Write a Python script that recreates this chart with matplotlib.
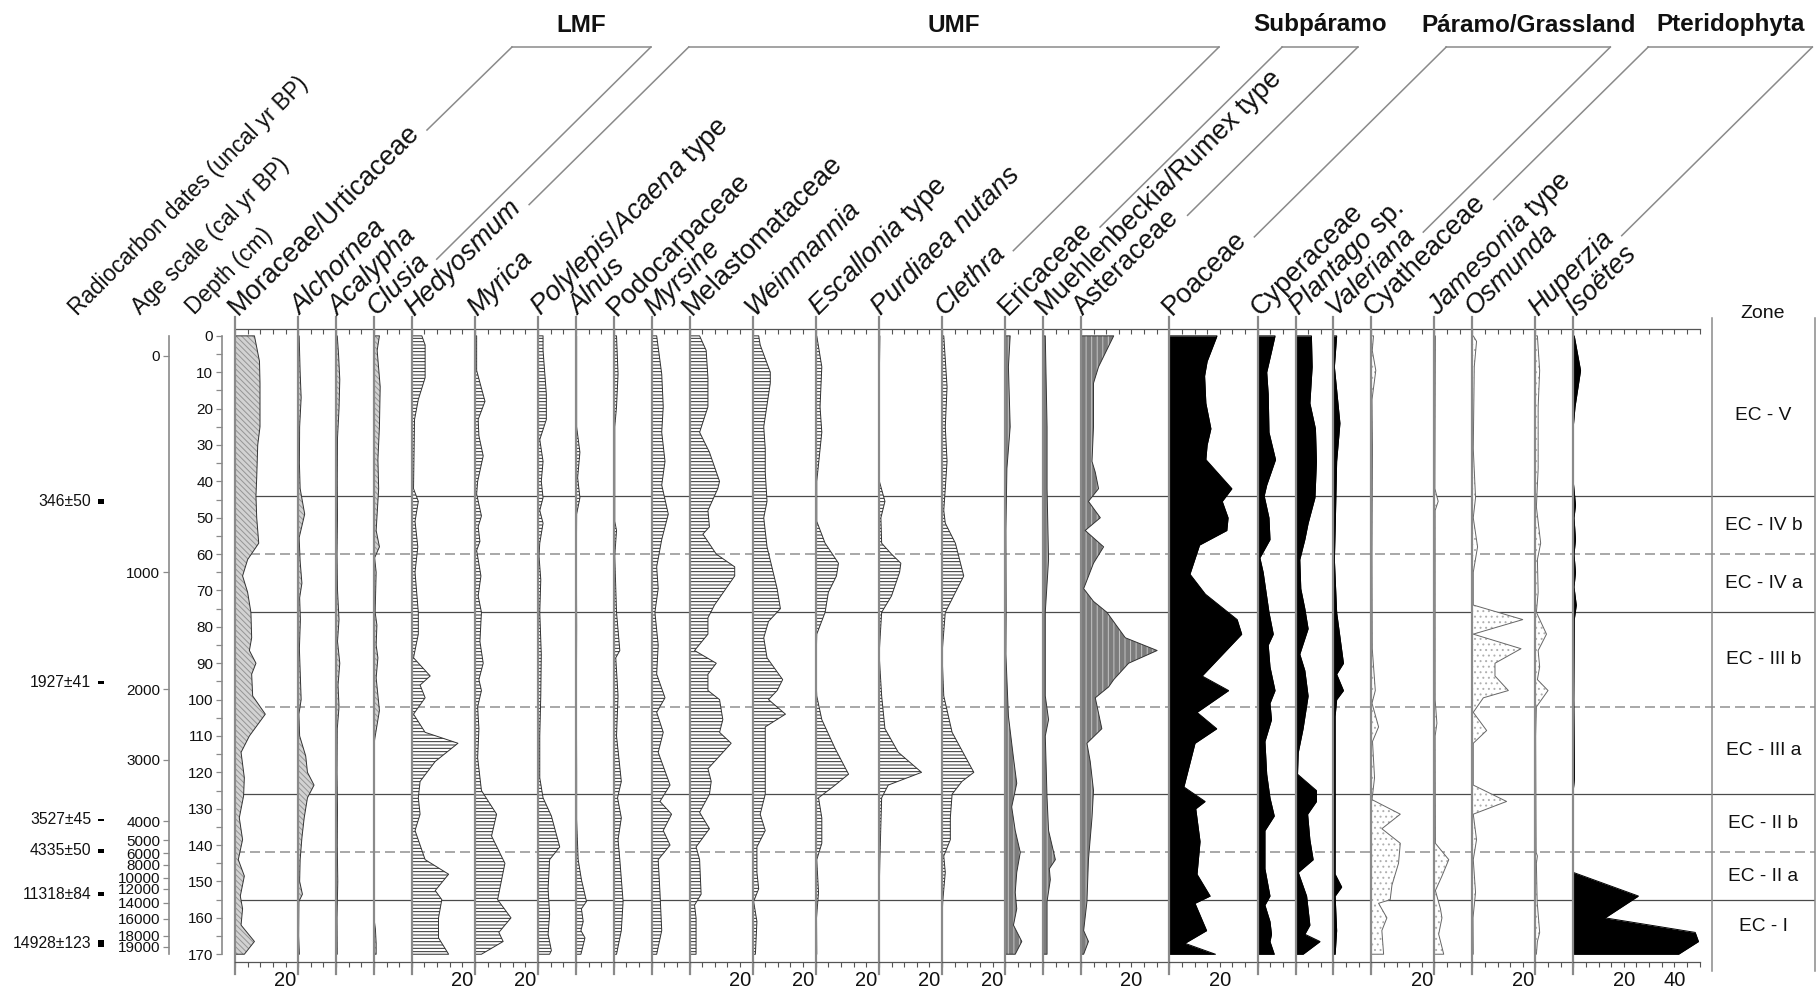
import numpy as np
import matplotlib.pyplot as plt
from matplotlib.patches import Rectangle

plt.rcParams['font.family'] = ['Liberation Sans', 'DejaVu Sans']
plt.rcParams['mathtext.fontset'] = 'custom'
plt.rcParams['mathtext.rm'] = 'Liberation Sans'
plt.rcParams['mathtext.it'] = 'Liberation Sans:italic'
plt.rcParams['hatch.linewidth'] = 0.7

# ---------------- data (depth cm, percentage) ----------------
zone_solid = [44, 76, 126, 155]
zone_dashed = [60, 102, 142]
zone_bounds = [0, 44, 60, 76, 102, 126, 142, 155, 170]
zone_names = ["EC - V", "EC - IV b", "EC - IV a", "EC - III b", "EC - III a",
              "EC - II b", "EC - II a", "EC - I"]

age_labels = [0, 1000, 2000, 3000, 4000, 5000, 6000, 8000, 10000, 12000,
              14000, 16000, 18000, 19000]
age_depths = [5.5, 65.0, 97.1, 116.5, 133.4, 138.7, 142.2, 145.4, 149.0,
              152.0, 155.8, 160.2, 164.9, 168.0]

c14_labels = ["346\u00b150", "1927\u00b141", "3527\u00b145", "4335\u00b150",
              "11318\u00b184", "14928\u00b1123"]
c14_depths = [45.5, 95.3, 133.0, 141.6, 153.5, 167.1]
c14_err = [0.6, 0.3, 0.3, 0.6, 0.6, 0.9]

moraceae = [(0, 7.7), (7, 9.7), (13, 9.9), (25, 9.9), (30, 9.0), (39, 8.6), (44, 8.3),
            (50, 8.6), (57, 9.4), (61.5, 5.0), (66, 3.0), (70.5, 5.0), (76, 6.3),
            (83, 6.6), (86.5, 5.7), (90, 8.3), (93, 6.6), (99, 7.0), (104, 12.0),
            (110, 5.7), (114.5, 2.4), (121.5, 3.7), (126.5, 3.4), (132.5, 1.7),
            (138.5, 3.0), (144, 1.3), (148.5, 3.7), (154, 2.1), (157.5, 3.0),
            (162, 2.4), (166.5, 7.7), (170, 3.7)]
alchornea = [(0, 0.4), (10, 0.8), (17, 1.2), (25, 0.6), (35, 0.5), (42, 0.8), (49, 2.6),
             (55.5, 0.4), (62, 0.8), (68, 1.5), (72, 0.6), (78, 0.9), (86, 0.5),
             (92, 0.8), (100, 1.2), (104, 0.3), (110, 0.6), (115.5, 3.0), (120, 3.7),
             (123.5, 6.3), (127, 3.7), (132.5, 2.4), (138, 1.5), (144, 0.8), (150, 0.6),
             (153.5, 1.7), (155.5, 0.3), (165, 0.2), (170, 0.5)]
acalypha = [(0, 0.5), (5, 1.0), (12, 1.5), (20, 1.2), (28, 0.6), (40, 0.5), (50, 0.6),
            (60, 0.4), (70, 0.6), (78, 1.2), (84, 0.6), (90, 1.5), (96, 0.8),
            (102, 1.2), (108, 0.5), (120, 0.4), (130, 0.6), (140, 0.5), (150, 0.7),
            (160, 0.4), (170, 0.5)]
clusia = [(0, 2.2), (4, 1.3), (14, 2.5), (25, 2.2), (34, 1.6), (42, 1.9), (53.5, 0.9),
          (58, 2.2), (61, 0.3), (65, 0.9), (76, 0.5), (79.5, 1.2), (85, 0.9),
          (88.5, 1.6), (94, 0.9), (103, 2.2), (111, 0.3), (113, 0), (160, 0),
          (163, 0.6), (167, 0.9), (170, 0.9)]
hedyosmum = [(0, 4.0), (2.5, 5.3), (11.5, 5.3), (17.5, 2.6), (23, 1.1), (42, 0.7),
             (45.5, 2.6), (51, 1.3), (58, 2.4), (65, 1.3), (76, 2.6), (82, 2.6),
             (88.5, 0.7), (93.5, 7.3), (96, 3.3), (99.5, 5.3), (104, 0.7), (109, 5.3),
             (112, 18.3), (117, 9.3), (122.5, 3.3), (127, 2.6), (131.5, 3.3),
             (136, 1.3), (144, 5.3), (148, 14.6), (152.5, 9.3), (155, 11.9),
             (160, 10.6), (165.5, 10.6), (170, 14.6)]
myrica = [(0, 0.7), (9.5, 0.7), (18, 4.0), (23, 1.3), (27.5, 1.6), (33, 3.3), (40, 1.1),
          (43.5, 0.7), (49.5, 2.6), (52.5, 1.3), (56.5, 2.0), (59, 0.7), (66, 2.4),
          (71.5, 1.3), (76, 2.6), (84, 2.0), (90, 3.3), (94.5, 1.6), (97.5, 2.6),
          (102, 1.1), (108, 1.6), (116, 1.1), (125, 2.6), (131.5, 8.6), (137.5, 6.6),
          (145, 11.9), (155, 9.0), (160, 14.3), (164, 9.5), (166.5, 11.2), (170, 2.6)]
polylepis = [(0, 2.0), (4, 2.0), (16, 3.3), (23, 3.3), (28.5, 0.7), (34.5, 2.0), (40, 1.3),
             (44.5, 2.0), (48, 0.7), (51.5, 2.0), (57, 0.7), (60.5, 0.4), (67, 1.1),
             (76, 0.7), (87.5, 1.3), (99, 1.1), (110, 0.7), (121.5, 0.7), (127, 2.0),
             (132, 5.3), (140.5, 8.6), (144, 4.6), (152, 4.0), (159, 4.6), (164.5, 4.0),
             (169, 5.3), (170, 4.6)]
alnus = [(0, 0.3), (25, 0.3), (32, 1.6), (39, 0.7), (44.5, 1.6), (49, 0.3), (60, 0.2),
         (80, 0.3), (100, 0.2), (120, 0.3), (133, 0.3), (144, 0.9), (149.5, 2.2),
         (155.5, 4.2), (157.5, 2.2), (161, 2.9), (163.5, 2.0), (165.5, 3.6), (170, 2.0)]
podocarpaceae = [(0, 1.1), (10.5, 1.7), (19.5, 1.1), (25, 0.4), (51, 0.4), (53.5, 1.1),
                 (60.5, 0.4), (76, 1.1), (86.5, 2.4), (88.5, 0.8), (99, 1.7), (110, 1.1),
                 (122.5, 3.0), (127, 1.5), (132.5, 3.0), (138.5, 1.7), (144, 2.4),
                 (155.5, 3.7), (163.5, 3.0), (170, 1.1)]
myrsine = [(0, 2.0), (10.5, 4.0), (19.5, 4.6), (26.5, 4.0), (34.5, 5.3), (41, 4.0),
           (49, 6.6), (56, 4.0), (63.5, 2.0), (69.5, 2.6), (76, 1.3), (85, 2.6), (93, 2.0),
           (99.5, 5.3), (103.5, 2.0), (109, 4.6), (114.5, 2.6), (123.5, 7.3), (128, 3.3),
           (131.5, 7.9), (136, 4.6), (140, 7.3), (144, 2.6), (153, 3.3), (163.5, 4.0),
           (170, 2.0)]
melastomataceae = [(0, 4.0), (4, 6.6), (11.5, 7.3), (19.5, 7.3), (26.5, 4.0), (32, 7.9),
                   (40, 11.9), (42, 11.2), (48, 7.3), (52.5, 7.9), (54.5, 5.3), (60, 10.6),
                   (63.5, 17.9), (66, 17.9), (74, 9.9), (77.5, 7.3), (82, 7.3), (86.5, 2.0),
                   (90, 10.6), (93, 7.3), (97.5, 7.3), (100, 11.9), (105.5, 13.2),
                   (109, 11.9), (112, 16.5), (119, 7.3), (122.5, 8.6), (126, 7.9),
                   (131, 4.0), (135.5, 7.9), (140.5, 2.6), (144, 4.0), (153.5, 4.6),
                   (156.5, 2.0), (160, 2.6), (170, 2.6)]
weinmannia = [(0, 2.4), (2.5, 3.0), (10, 7.0), (13, 7.0), (25, 4.4), (31, 5.0), (37.5, 5.0),
              (45.5, 5.7), (50, 4.4), (58, 5.7), (69.5, 9.7), (75, 11.0), (78.5, 6.3),
              (83, 4.4), (88.5, 5.7), (94.5, 11.9), (97.5, 9.7), (100, 6.3), (104, 13.0),
              (107.5, 5.0), (126, 5.0), (131.5, 3.0), (136, 5.0), (140.5, 1.7),
              (147.5, 1.7), (152, 2.4), (155.5, 0.4), (161, 1.7), (170, 1.1)]
escallonia = [(0, 0.4), (8.5, 2.4), (19.5, 1.7), (26.5, 2.4), (40, 0.4), (51, 0.4), (57, 3.7),
              (62.5, 9.0), (66, 8.2), (70.5, 5.0), (76, 3.7), (82, 0.4), (93, 0.0),
              (99, 0.4), (105.5, 2.4), (113.5, 7.7), (120.5, 13.0), (123.5, 7.7),
              (127, 1.1), (132.5, 2.4), (139.5, 2.4), (144, 0.4), (153, 1.1), (160, 0.3),
              (170, 0.4)]
purdiaea = [(0, 0.4), (10, 0.2), (40, 0.2), (45.5, 2.4), (50, 0.8), (57, 1.1), (60, 5.0),
            (62.5, 8.7), (65, 8.2), (71.5, 5.0), (76, 1.1), (87.5, 0.1), (99, 1.1),
            (108, 2.4), (114.5, 7.7), (120, 16.9), (123.5, 3.7), (127, 1.1), (144, 0.4),
            (150, 0.2), (170, 0.2)]
clethra = [(0, 0.7), (14, 2.0), (25, 1.3), (34.5, 2.0), (42, 1.3), (48, 0.7), (51.5, 1.3),
           (57, 5.3), (66, 8.6), (71.5, 4.6), (76, 1.3), (87.5, 0.0), (99, 0.7), (109, 4.0),
           (120, 12.6), (122.5, 7.9), (126, 4.0), (132.5, 3.3), (138.5, 3.3), (143, 0.7),
           (147.5, 1.3), (155.5, 0.3), (160, 0.0), (170, 0.0)]
ericaceae = [(0, 2.0), (8.5, 1.3), (25, 2.0), (36.5, 0.7), (53.5, 0.3), (76, 0.4),
             (87.5, 0.3), (104.5, 1.3), (116, 3.3), (123, 4.6), (129.5, 2.6), (136, 4.0),
             (142, 6.0), (147.5, 4.6), (153, 4.0), (157.5, 4.6), (162, 3.3), (166.5, 6.6),
             (170, 4.0)]
muehlenbeckia = [(0, 0.9), (25, 1.6), (42, 1.6), (61.5, 2.2), (76, 0.9), (99, 0.9),
                 (105.5, 2.2), (110, 0.9), (127, 1.6), (136, 2.2), (144, 4.9), (146.5, 2.5),
                 (149.5, 2.9), (155.5, 1.6), (170, 1.6)]
asteraceae = [(0, 13.0), (8.5, 7.0), (13, 5.0), (25, 5.0), (34.5, 4.4), (37.5, 5.7),
              (42, 7.0), (45.5, 3.0), (50, 7.7), (53.5, 1.7), (58, 9.0), (62.5, 5.0),
              (69.5, 1.1), (73, 5.0), (76, 10.3), (83, 17.6), (86.5, 30.2), (90, 18.9),
              (94.5, 13.0), (96.5, 11.0), (99.5, 5.7), (108, 8.3), (112, 2.4), (117, 3.7),
              (125, 5.0), (132.5, 4.4), (144, 3.0), (155.5, 2.4), (163.5, 1.1),
              (166.5, 3.0), (170, 1.1)]
poaceae = [(0, 18.9), (7, 15.0), (11, 14.0), (18.5, 14.5), (25.5, 16.5), (30, 15.0),
           (34, 14.5), (42, 24.8), (45.5, 21.0), (50, 23.3), (53.5, 22.8), (57.5, 12.0),
           (65.5, 8.2), (71, 14.3), (78, 26.9), (82, 28.7), (93.5, 13.0), (97.5, 23.5),
           (103.5, 11.0), (108, 18.8), (112, 10.2), (124, 5.8), (128, 14.2), (130, 10.5),
           (139, 12.2), (148, 11.0), (154, 16.2), (156, 10.2), (163.5, 14.8), (167, 6.2),
           (170, 18.3)]
cyperaceae = [(0, 6.9), (4, 5.6), (10, 3.6), (16, 4.2), (26.5, 4.5), (34, 7.1), (41, 3.6),
              (44, 2.6), (50, 4.5), (56, 4.9), (61, 0.9), (65, 2.2), (76, 4.5), (82, 6.2),
              (85, 4.2), (91, 4.9), (97.5, 6.9), (101, 4.9), (105.5, 5.5), (111.5, 2.9),
              (120.5, 3.6), (127, 4.9), (132, 6.6), (136, 2.9), (146.5, 2.9), (154, 4.9),
              (156.5, 2.9), (161, 4.9), (164.5, 5.5), (166.5, 4.9), (170, 6.6)]
plantago = [(0, 6.3), (8.5, 6.6), (18.5, 5.7), (25.5, 7.9), (34.5, 8.3), (44.5, 7.7),
            (51.5, 5.0), (56, 3.7), (61.5, 1.7), (69.5, 2.1), (75, 3.7), (80.5, 5.0),
            (87.5, 1.7), (92, 3.7), (99, 5.0), (108, 3.0), (114.5, 1.1), (120.5, 0.8),
            (125, 8.3), (128, 8.3), (131.5, 4.8), (138.5, 5.7), (144, 7.0), (147.5, 1.1),
            (154, 4.4), (162, 5.7), (164.5, 3.7), (166.5, 9.7), (170, 3.0)]
valeriana = [(0, 1.3), (8.5, 0.4), (24, 2.6), (34.5, 1.3), (53.5, 0.7), (61.5, 0.4),
             (76, 1.3), (90, 4.0), (93, 1.3), (97.5, 4.0), (100, 1.3), (104.5, 0.7),
             (120, 0.7), (148, 0.7), (151.5, 3.3), (154, 0.7), (163.5, 1.3), (170, 0.7)]
cyatheaceae = [(0, 0.9), (4, 0.4), (9.5, 1.8), (17.5, 0.3), (31, 0.5), (60, 0.3), (86, 0.4),
               (97.5, 1.6), (101, 0.3), (107.5, 2.9), (111.5, 0.5), (121.5, 1.3),
               (127.5, 0.3), (131.5, 11.5), (135.5, 4.2), (139.5, 11.5), (145, 10.8),
               (151, 8.2), (155, 7.5), (156, 2.9), (160, 6.2), (163.5, 4.2), (170, 4.9)]
jamesonia = [(0, 0.4), (42, 0.2), (45.5, 1.5), (48, 0.3), (100, 0.3), (106.5, 1.0),
             (110, 0.3), (139.5, 0.4), (144, 5.7), (148.5, 3.0), (152.5, 0.4),
             (157.5, 2.4), (160, 3.0), (164.5, 1.7), (170, 3.7)]
osmunda = [(0, 0.4), (1.5, 1.7), (8.5, 0.8), (31, 0.4), (44.5, 1.3), (50, 0.4), (58, 2.1),
           (65, 0.4), (74, 0.4), (78, 20.0), (82, 0.4), (86, 19.3), (90, 9.0), (93.5, 9.0),
           (97.5, 14.3), (99.5, 4.4), (103.5, 0.4), (108.5, 5.7), (112, 0.4),
           (123.5, 0.4), (128, 13.6), (131.5, 0.4), (138.5, 1.7), (144, 0.4), (153, 1.3),
           (160, 0.3), (170, 0.4)]
huperzia = [(0, 0.8), (9.5, 1.7), (19.5, 1.1), (36.5, 1.1), (47, 0.4), (57, 2.1), (61.5, 0.8),
            (70.5, 1.1), (76, 0.4), (82, 4.4), (86.5, 1.1), (91, 1.7), (94.5, 0.8),
            (97.5, 5.0), (102, 0.4), (110, 0.1), (142, 0.3), (143, 0.8), (145, 0.4),
            (155.5, 0.7), (164, 1.7), (166.5, 0.8), (170, 0.4)]
isoetes = [(0, 0.4), (9.5, 2.9), (19.5, 0.7), (25, 0), (40, 0), (46.5, 0.9), (50, 0.3),
           (56, 0.9), (60, 0.3), (65, 0.9), (69, 0.3), (74, 1.2), (78, 0.4), (100, 0.2),
           (121.5, 0.5), (125, 0), (147.5, 0), (154, 25.8), (160, 12.6), (164, 48.3),
           (166.5, 49.6), (170, 41.7)]

# name, italic part of the name, data, axis width (%), fill style
taxa = [
    ("Moraceae/Urticaceae", "", moraceae, 25, "lmf"),
    ("Alchornea", "all", alchornea, 15, "lmf"),
    ("Acalypha", "all", acalypha, 15, "lmf"),
    ("Clusia", "all", clusia, 15, "lmf"),
    ("Hedyosmum", "all", hedyosmum, 25, "umf"),
    ("Myrica", "all", myrica, 25, "umf"),
    ("Polylepis/Acaena type", "Polylepis/Acaena", polylepis, 15, "umf"),
    ("Alnus", "all", alnus, 15, "umf"),
    ("Podocarpaceae", "", podocarpaceae, 15, "umf"),
    ("Myrsine", "all", myrsine, 15, "umf"),
    ("Melastomataceae", "", melastomataceae, 25, "umf"),
    ("Weinmannia", "all", weinmannia, 25, "umf"),
    ("Escallonia type", "Escallonia", escallonia, 25, "umf"),
    ("Purdiaea nutans", "all", purdiaea, 25, "umf"),
    ("Clethra", "all", clethra, 25, "umf"),
    ("Ericaceae", "", ericaceae, 15, "sub"),
    ("Muehlenbeckia/Rumex type", "", muehlenbeckia, 15, "sub"),
    ("Asteraceae", "", asteraceae, 35, "sub"),
    ("Poaceae", "", poaceae, 35, "par"),
    ("Cyperaceae", "", cyperaceae, 15, "par"),
    ("Plantago sp.", "Plantago", plantago, 15, "par"),
    ("Valeriana", "all", valeriana, 15, "par"),
    ("Cyatheaceae", "", cyatheaceae, 25, "pte"),
    ("Jamesonia type", "Jamesonia", jamesonia, 15, "pte"),
    ("Osmunda", "all", osmunda, 25, "pte"),
    ("Huperzia", "all", huperzia, 15, "pte"),
    ("Iso\u00ebtes", "all", isoetes, 50, "iso"),
]

# group name, first taxon index, last taxon index
groups = [("LMF", 0, 3), ("UMF", 4, 14), ("Subp\u00e1ramo", 15, 17),
          ("P\u00e1ramo/Grassland", 18, 21), ("Pteridophyta", 22, 25)]

# ---------------- layout ----------------
W, H = 1820, 994
AX_TOP, AX_BOT = 328.6, 961.5
YLIM = (172, -2)
PX_PER_PCT = 2.525
X0 = 235
LABEL_Y = 316.5
BRACKET_Y = 47
TXT = '#111111'
GRAY = '#8a8a8a'

STYLES = {
    'lmf': dict(face='#d2d2d2', hatch='\\\\\\\\\\\\', hc='#959595', edge='#333333'),
    'umf': dict(face='white', hatch='-----', hc='#2a2a2a', edge='#333333'),
    'sub': dict(face='#7c7c7c', hatch='|||', hc='#c4c4c4', edge='#333333'),
    'par': dict(face='black', hatch=None, hc='black', edge='black'),
    'pte': dict(face='white', hatch='...', hc='#b0b0b0', edge='#666666'),
    'iso': dict(face='black', hatch=None, hc='black', edge='black'),
}

fig = plt.figure(figsize=(W / 100, H / 100), dpi=100)


def px_axes(x0, x1, z=1):
    ax = fig.add_axes([x0 / W, 1 - AX_BOT / H, (x1 - x0) / W, (AX_BOT - AX_TOP) / H],
                      zorder=z)
    ax.set_ylim(*YLIM)
    ax.patch.set_visible(False)
    return ax


ov = fig.add_axes([0, 0, 1, 1], zorder=5)
ov.set_xlim(0, W)
ov.set_ylim(H, 0)
ov.axis('off')

# zone boundaries behind the curves
bg = px_axes(X0, 1815, z=0)
bg.set_xlim(0, 1)
bg.axis('off')
for d in zone_solid:
    bg.axhline(d, color='#4a4a4a', lw=0.9)
for d in zone_dashed:
    bg.axhline(d, color='#9a9a9a', lw=1.2, dashes=(6, 3))

renderer = fig.canvas.get_renderer()
label_geom = []
x = X0
for name, ital, data, width, style in taxa:
    d = np.array([p[0] for p in data])
    v = np.array([p[1] for p in data])
    x1 = x + width * PX_PER_PCT
    ax = px_axes(x, x1)
    ax.set_xlim(0, width)
    st = STYLES[style]
    ax.fill_betweenx(d, 0, v, facecolor=st['face'], hatch=st['hatch'],
                     edgecolor=st['hc'], lw=0)
    ax.plot(np.r_[0, v, 0], np.r_[d[0], d, d[-1]], color=st['edge'], lw=0.7)
    ax.plot([0, 0], [-5.3, 175.3], color=GRAY, lw=1.6, clip_on=False)

    for s in ('left', 'right', 'top'):
        ax.spines[s].set_visible(False)
    ax.spines['bottom'].set_color('#555555')
    ax.spines['bottom'].set_linewidth(0.9)
    ticks = np.arange(0, width + 1, 5)
    ax.set_xticks(ticks)
    ax.set_xticklabels([str(t) if t in (20, 40) else '' for t in ticks],
                       fontsize=14.5, color=TXT)
    ax.tick_params(axis='x', direction='out', length=3.5, width=0.8,
                   color='#555555', pad=3)
    ax.set_yticks([])
    top = ax.secondary_xaxis('top')
    top.set_xticks(ticks)
    top.set_xticklabels([])
    top.tick_params(direction='in', length=3.5, width=0.8, color='#555555')
    top.spines['top'].set_color('#555555')
    top.spines['top'].set_linewidth(0.9)

    # rotated taxon label
    kw = dict(fontsize=19.5, color=TXT)
    if ital == 'all':
        txt = name
        kw['fontstyle'] = 'italic'
    elif ital:
        rest = name[len(ital):]
        txt = r'$\mathit{' + ital + '}$' + rest
    else:
        txt = name
    sx = x + 2.5
    ov.text(sx, LABEL_Y, txt, rotation=45, rotation_mode='anchor',
            ha='left', va='baseline', **kw)
    tmp = ov.text(0, 0, txt, **kw)
    L = tmp.get_window_extent(renderer).width
    tmp.remove()
    label_geom.append((sx, LABEL_Y, L))
    x = x1

# group brackets
for gname, i0, i1 in groups:
    corners = []
    for i in (i0, i1):
        sx, sy, L = label_geom[i]
        xc = sx + (sy - BRACKET_Y) + 5
        g = (L + 7) * 0.7071
        ov.plot([sx + g + 2, xc], [sy - g + 1, BRACKET_Y], color=GRAY, lw=1.1)
        corners.append(xc)
    ov.plot(corners, [BRACKET_Y, BRACKET_Y], color=GRAY, lw=1.1)
    ov.text(sum(corners) / 2, 25, gname, ha='center', va='center',
            fontsize=17.5, fontweight='bold', color=TXT)

# left-hand labels
ov.text(77, 316.7, 'Radiocarbon dates (uncal yr BP)', rotation=45,
        rotation_mode='anchor', ha='left', va='baseline', fontsize=16.3, color=TXT)
ov.text(140.4, 315, 'Age scale (cal yr BP)', rotation=45,
        rotation_mode='anchor', ha='left', va='baseline', fontsize=16.3, color=TXT)
ov.text(194, 315, 'Depth (cm)', rotation=45,
        rotation_mode='anchor', ha='left', va='baseline', fontsize=16.3, color=TXT)

# depth axis
da = px_axes(222, 232)
da.set_xlim(0, 1)
for s in ('right', 'top', 'bottom'):
    da.spines[s].set_visible(False)
da.spines['left'].set_bounds(0, 170)
da.spines['left'].set_color(GRAY)
da.spines['left'].set_linewidth(1.2)
da.set_yticks(np.arange(0, 171, 10))
da.set_yticks(np.arange(5, 171, 10), minor=True)
da.tick_params(axis='y', which='both', direction='out', length=4.3, width=0.9,
               color=GRAY, labelsize=11, labelcolor=TXT, pad=2)
da.set_xticks([])

# age axis
aa = px_axes(169, 179)
aa.set_xlim(0, 1)
for s in ('right', 'top', 'bottom'):
    aa.spines[s].set_visible(False)
aa.spines['left'].set_bounds(0, 170)
aa.spines['left'].set_color(GRAY)
aa.spines['left'].set_linewidth(1.2)
aa.set_yticks(age_depths)
aa.set_yticklabels([str(a) for a in age_labels])
aa.tick_params(axis='y', direction='out', length=4.3, width=0.9, color=GRAY,
               labelsize=11, labelcolor=TXT, pad=2)
aa.set_xticks([])

# radiocarbon dates
rc = px_axes(0, 110)
rc.set_xlim(0, 110)
rc.axis('off')
for lab, dd, e in zip(c14_labels, c14_depths, c14_err):
    rc.add_patch(Rectangle((98, dd - e), 6, 2 * e, color='black', lw=0))
    rc.text(91, dd, lab, ha='right', va='center', fontsize=11.3, color=TXT)

# zone column
zc = px_axes(1711.7, 1815)
zc.set_xlim(0, 1)
zc.axis('off')
for k, zname in enumerate(zone_names):
    zc.text(0.5, (zone_bounds[k] + zone_bounds[k + 1]) / 2, zname,
            ha='center', va='center', fontsize=13.8, color=TXT)
for xz in (1711.7, 1815):
    ov.plot([xz, xz], [318, 971], color=GRAY, lw=1.1)
ov.text(1763, 313, 'Zone', ha='center', va='center', fontsize=14, color=TXT)

fig.savefig('out.png', dpi=100)
